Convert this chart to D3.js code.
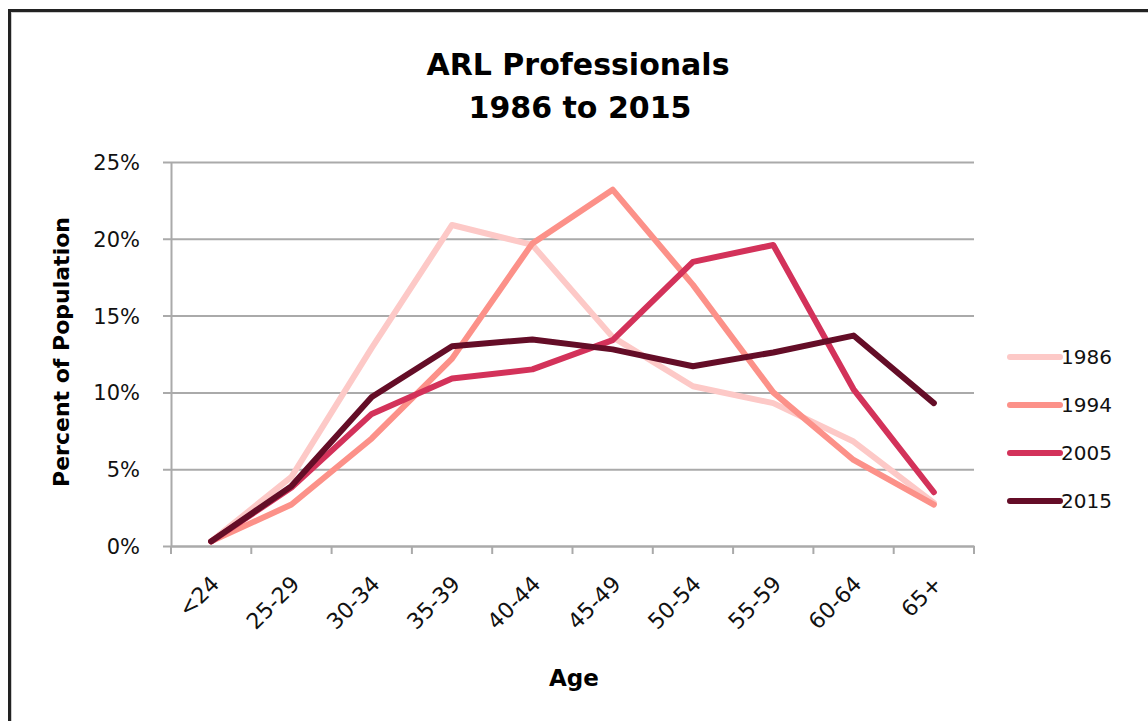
<!DOCTYPE html>
<html>
<head>
<meta charset="utf-8">
<script src="https://cdn.jsdelivr.net/npm/d3@7"></script>
<style>
  html, body { margin: 0; padding: 0; background: #fff; }
  svg { display: block; }
</style>
</head>
<body>
<svg id="chart" width="1148" height="721"></svg>
<script>
const categories = ["<24", "25-29", "30-34", "35-39", "40-44", "45-49", "50-54", "55-59", "60-64", "65+"];
const seriesNames = ["1986", "1994", "2005", "2015"];
const values1986 = [0.3, 4.5, 12.9, 20.9, 19.6, 13.6, 10.4, 9.3, 6.8, 2.8];
const values1994 = [0.3, 2.7, 7.0, 12.2, 19.7, 23.2, 17.0, 10.0, 5.6, 2.7];
const values2005 = [0.3, 3.8, 8.6, 10.9, 11.5, 13.4, 18.5, 19.6, 10.2, 3.5];
const values2015 = [0.3, 3.9, 9.7, 13.0, 13.45, 12.8, 11.7, 12.6, 13.7, 9.3];
const seriesColors = ["#fdc9c7", "#fc9189", "#d3325a", "#640d27"];
const yTicks = [0, 5, 10, 15, 20, 25];

const series = seriesNames.map((name, i) => ({
  name, color: seriesColors[i],
  values: [values1986, values1994, values2005, values2015][i]
}));

const svg = d3.select("#chart");
const plotLeft = 171, plotRight = 974, plotTop = 162, plotBottom = 546;
const bodyFont = "'DejaVu Sans', sans-serif";

// frame
svg.append("line").attr("x1", 8).attr("x2", 1148).attr("y1", 10.5).attr("y2", 10.5)
  .attr("stroke", "#222").attr("stroke-width", 3);
svg.append("line").attr("x1", 9.5).attr("x2", 9.5).attr("y1", 9).attr("y2", 721)
  .attr("stroke", "#222").attr("stroke-width", 3);
svg.append("line").attr("x1", 11).attr("x2", 1148).attr("y1", 12.5).attr("y2", 12.5)
  .attr("stroke", "#ccc").attr("stroke-width", 1);
svg.append("line").attr("x1", 11.5).attr("x2", 11.5).attr("y1", 12).attr("y2", 721)
  .attr("stroke", "#ccc").attr("stroke-width", 1);

const x = d3.scaleBand().domain(categories).range([plotLeft, plotRight]);
const y = d3.scaleLinear().domain([0, 25]).range([plotBottom, plotTop]);

// gridlines + y axis
const yAxis = d3.axisLeft(y).tickValues(yTicks).tickSize(-(plotRight - plotLeft)).tickSizeOuter(0)
  .tickFormat(d => d + "%");
const gy = svg.append("g").attr("transform", `translate(${plotLeft},0)`).call(yAxis);
gy.select(".domain").attr("stroke", "#aaa").attr("stroke-width", 2);
gy.selectAll(".tick line").attr("stroke", "#aaa").attr("stroke-width", 2).attr("x1", -8);
gy.selectAll(".tick text").attr("x", -31).attr("dy", "0.36em")
  .style("font-family", bodyFont).style("font-size", "21px").attr("fill", "#111");

// x axis
const xAxis = d3.axisBottom(x).tickSize(0).tickSizeOuter(0);
const gx = svg.append("g").attr("transform", `translate(0,${plotBottom})`).call(xAxis);
gx.select(".domain").attr("stroke", "#aaa").attr("stroke-width", 2);
gx.selectAll(".tick text")
  .attr("text-anchor", "end")
  .attr("transform", "translate(4,34) rotate(-45)")
  .attr("y", 0).attr("dy", "0.35em")
  .style("font-family", bodyFont).style("font-size", "22px").attr("fill", "#111");
// category boundary ticks
const boundaries = categories.map(c => x(c)).concat([plotRight]);
svg.append("g").selectAll("line").data(boundaries).join("line")
  .attr("x1", d => d).attr("x2", d => d).attr("y1", plotBottom).attr("y2", plotBottom + 8)
  .attr("stroke", "#aaa").attr("stroke-width", 2);

// lines
const line = d3.line()
  .x((d, i) => x(categories[i]) + x.bandwidth() / 2)
  .y(d => y(d));
svg.append("g").selectAll("path").data(series).join("path")
  .attr("d", d => line(d.values))
  .attr("fill", "none").attr("stroke", d => d.color)
  .attr("stroke-width", 6).attr("stroke-linejoin", "round").attr("stroke-linecap", "round");

// title
const title = svg.append("text").attr("text-anchor", "middle")
  .style("font-family", bodyFont).style("font-weight", "bold").style("font-size", "30px").attr("fill", "#000");
title.append("tspan").attr("x", 578).attr("y", 75).text("ARL Professionals");
title.append("tspan").attr("x", 580).attr("y", 118).text("1986 to 2015");

// axis titles
svg.append("text").attr("transform", "translate(69,352) rotate(-90)").attr("text-anchor", "middle")
  .style("font-family", bodyFont).style("font-weight", "bold").style("font-size", "22px")
  .attr("fill", "#000").text("Percent of Population");
svg.append("text").attr("x", 574).attr("y", 686).attr("text-anchor", "middle")
  .style("font-family", bodyFont).style("font-weight", "bold").style("font-size", "23px")
  .attr("fill", "#000").text("Age");

// legend
const lg = svg.append("g").selectAll("g").data(series).join("g")
  .attr("transform", (d, i) => `translate(1010,${357 + i * 48})`);
lg.append("line").attr("x1", 0).attr("x2", 50).attr("stroke", d => d.color)
  .attr("stroke-width", 6).attr("stroke-linecap", "round");
lg.append("text").attr("x", 51).attr("dy", "0.36em")
  .style("font-family", bodyFont).style("font-size", "20px").attr("fill", "#111")
  .text(d => d.name);
</script>
</body>
</html>
